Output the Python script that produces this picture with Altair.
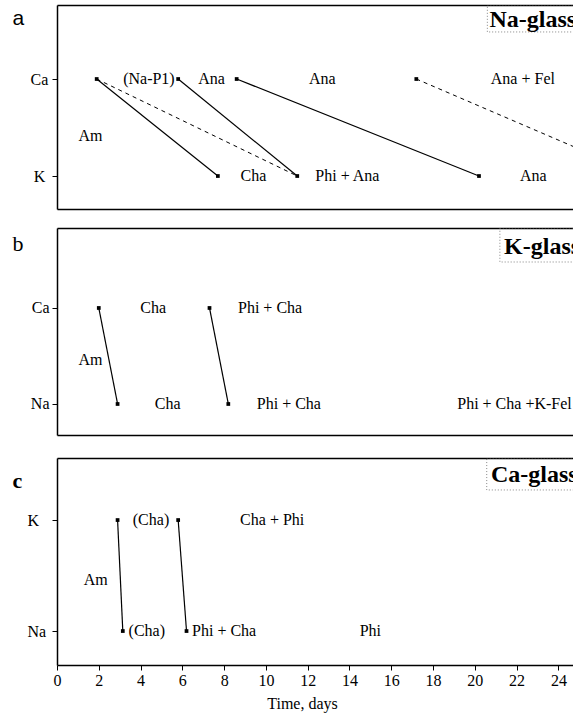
import altair as alt
import pandas as pd

FONT = "Liberation Serif"
X_DOMAIN = [0, 24.7]
X_TICKS = list(range(0, 25, 2))
WIDTH = 516

# ---------------- Panel a : Na-glass (1 = Ca, 0 = K) ----------------
a_seg_start = [1.9, 1.9, 5.8, 8.6, 17.2]
a_seg_end = [7.7, 11.5, 11.5, 20.2, 28.0]
a_seg_dashed = [False, True, False, False, True]
a_text = ["Am", "(Na-P1)", "Ana", "Ana", "Ana + Fel", "Cha", "Phi + Ana", "Ana"]
a_text_x = [1.6, 4.4, 7.4, 12.7, 22.3, 9.4, 13.9, 22.8]
a_text_y = [0.41, 1, 1, 1, 1, 0, 0, 0]

# ---------------- Panel b : K-glass (1 = Ca, 0 = Na) ----------------
b_seg_start = [2.0, 7.3]
b_seg_end = [2.9, 8.2]
b_seg_dashed = [False, False]
b_text = ["Cha", "Phi + Cha", "Am", "Cha", "Phi + Cha", "Phi + Cha +K-Fel"]
b_text_x = [4.6, 10.2, 1.6, 5.3, 11.1, 21.9]
b_text_y = [1, 1, 0.46, 0, 0, 0]

# ---------------- Panel c : Ca-glass (1 = K, 0 = Na) ----------------
c_seg_start = [2.9, 5.8]
c_seg_end = [3.15, 6.2]
c_seg_dashed = [False, False]
c_text = ["(Cha)", "Cha + Phi", "Am", "(Cha)", "Phi + Cha", "Phi"]
c_text_x = [4.5, 10.3, 1.85, 4.3, 8.0, 15.0]
c_text_y = [1, 1, 0.46, 0, 0, 0]

panel_letters = ["a", "b", "c"]
letter_fonts = ["Liberation Sans", FONT, FONT]
letter_sizes = [21, 22, 22]
letter_weights = ["normal", "normal", "bold"]
level_names = [("Ca", "K"), ("Ca", "Na"), ("K", "Na")]
level_label_align = ["center", "right", "left"]
level_label_pad = [13, 3, 25]
glass_names = ["Na-glass", "K-glass", "Ca-glass"]
glass_x = [20.7, 21.4, 20.77]
glass_y = [1.608, 1.635, 1.406]
glass_box_x = [20.6, 21.2, 20.57]
glass_box_y = [1.485, 1.479, 1.271]
y_domains = [[-0.340, 1.763], [-0.323, 1.833], [-0.306, 1.559]]
heights = [204, 207, 207]
letter_y = [13, 15, 22]


def panel(i, seg_start, seg_end, seg_dashed, texts, tx, ty, show_x):
    top_name, bottom_name = level_names[i]
    ydom = y_domains[i]
    xs = alt.Scale(domain=X_DOMAIN, nice=False, zero=False)
    ys = alt.Scale(domain=ydom, nice=False, zero=False)

    seg = pd.DataFrame({"x0": seg_start, "x1": seg_end, "dashed": seg_dashed,
                        "yt": [1] * len(seg_start), "yb": [0] * len(seg_start)})
    pts = pd.DataFrame({
        "x": list(seg_start) + list(seg_end),
        "y": [1] * len(seg_start) + [0] * len(seg_end),
    }).drop_duplicates()
    lab = pd.DataFrame({"t": texts, "x": tx, "y": ty})
    glass = pd.DataFrame({"t": [glass_names[i]], "x": [glass_x[i]], "y": [glass_y[i]]})
    box = pd.DataFrame({"bx0": [glass_box_x[i]], "bx1": [X_DOMAIN[1] + 2],
                        "by0": [glass_box_y[i]], "by1": [ydom[1]]})

    if show_x:
        x_axis = alt.Axis(values=X_TICKS, title="Time, days", grid=False,
                          labelFlush=False, labelOverlap=False, tickSize=5,
                          labelFontSize=16, titleFontSize=16,
                          titleFontWeight="normal", titleX=245, titlePadding=7,
                          domainWidth=1.5, domainColor="black", tickColor="black")
    else:
        x_axis = alt.Axis(labels=False, ticks=False, title=None, grid=False,
                          domainWidth=1.5, domainColor="black")

    y_axis = alt.Axis(values=[0, 1],
                      labelExpr=f"datum.value == 1 ? '{top_name}' : '{bottom_name}'",
                      labelAlign=level_label_align[i],
                      labelPadding=level_label_pad[i],
                      title=panel_letters[i], titleAngle=0, titleAlign="left",
                      titleBaseline="middle", titleX=-45, titleY=letter_y[i],
                      titleFont=letter_fonts[i], titleFontSize=letter_sizes[i],
                      titleFontWeight=letter_weights[i],
                      grid=False, tickSize=5, labelFontSize=16,
                      domainWidth=1.5, domainColor="black", tickColor="black")

    def Y(field):
        return alt.Y(field, scale=ys, axis=y_axis)

    solid = alt.Chart(seg).transform_filter("!datum.dashed").mark_rule(
        clip=True, color="black", strokeWidth=1.2
    ).encode(
        x=alt.X("x0:Q", scale=xs, axis=None),
        x2="x1:Q",
        y=Y("yt:Q"),
        y2="yb:Q",
    )
    dashed = alt.Chart(seg).transform_filter("datum.dashed").mark_rule(
        clip=True, color="black", strokeWidth=1, strokeDash=[4, 4]
    ).encode(
        x=alt.X("x0:Q", scale=xs, axis=None),
        x2="x1:Q",
        y=Y("yt:Q"),
        y2="yb:Q",
    )
    points = alt.Chart(pts).mark_square(
        clip=True, color="black", size=14, opacity=1
    ).encode(
        x=alt.X("x:Q", scale=xs, axis=x_axis),
        y=Y("y:Q"),
    )
    labels = alt.Chart(lab).mark_text(
        clip=True, font=FONT, fontSize=16, align="center", baseline="middle", color="black"
    ).encode(
        x=alt.X("x:Q", scale=xs, axis=None),
        y=Y("y:Q"),
        text="t:N",
    )
    boxes = alt.Chart(box).mark_rect(
        clip=True, fillOpacity=0, stroke="#666666", strokeWidth=0.8, strokeDash=[1, 2]
    ).encode(
        x=alt.X("bx0:Q", scale=xs,
                axis=alt.Axis(orient="top", labels=False, ticks=False, title=None,
                              grid=False, domainWidth=1.5, domainColor="black")),
        x2="bx1:Q",
        y=Y("by0:Q"),
        y2="by1:Q",
    )
    gtext = alt.Chart(glass).mark_text(
        clip=True, font=FONT, fontSize=24, fontWeight="bold", align="left",
        baseline="middle", color="black"
    ).encode(
        x=alt.X("x:Q", scale=xs, axis=None),
        y=Y("y:Q"),
        text="t:N",
    )
    return alt.layer(points, boxes, solid, dashed, labels, gtext).resolve_axis(
        x="independent"
    ).properties(width=WIDTH, height=heights[i])


pa = panel(0, a_seg_start, a_seg_end, a_seg_dashed, a_text, a_text_x, a_text_y, False)
pb = panel(1, b_seg_start, b_seg_end, b_seg_dashed, b_text, b_text_x, b_text_y, False)
pc = panel(2, c_seg_start, c_seg_end, c_seg_dashed, c_text, c_text_x, c_text_y, True)

chart = alt.vconcat(
    alt.vconcat(pa, pb, spacing=19), pc, spacing=23
).properties(
    padding={"left": 12, "top": 5, "right": 0, "bottom": 2}
).configure(
    font=FONT
).configure_view(
    stroke=None
).configure_axis(
    labelFont=FONT, titleFont=FONT, labelColor="black", titleColor="black"
)

chart.save("out.html", embed_options={"renderer": "svg", "actions": False})
